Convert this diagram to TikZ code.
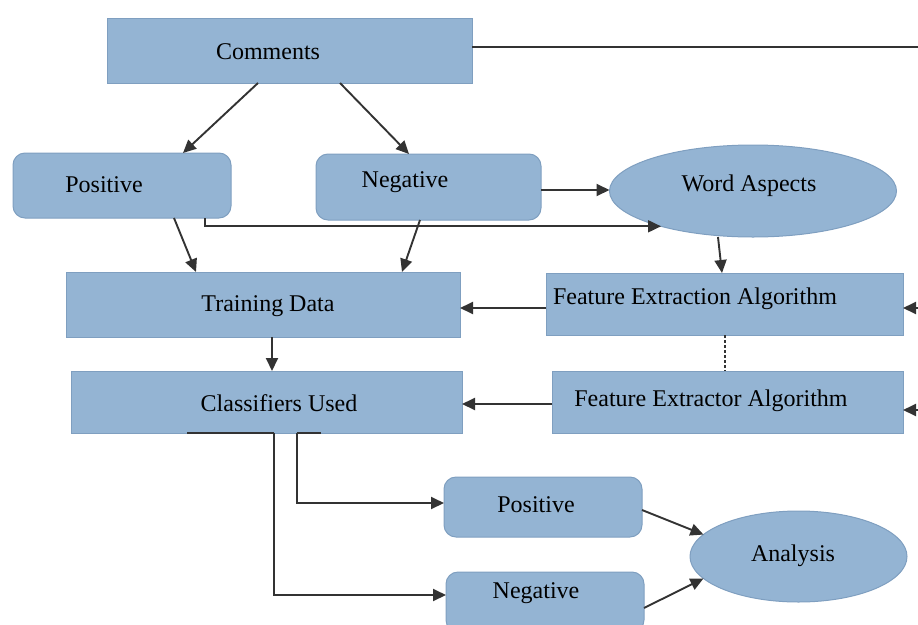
\documentclass[tikz,border=0pt]{standalone}
\usepackage{fontspec}
\setmainfont{Liberation Serif}
\usetikzlibrary{arrows.meta,shapes.geometric}
\definecolor{boxfill}{HTML}{94B4D3}
\definecolor{boxline}{HTML}{7F9FC0}
\definecolor{conn}{HTML}{333333}
\begin{document}
\begin{tikzpicture}[x=1pt,y=-1pt,
  sqbox/.style={draw=boxline,fill=boxfill,line width=1pt,rectangle,inner sep=0pt,outer sep=0pt},
  rdbox/.style={sqbox,rounded corners=12pt},
  ellbox/.style={draw=boxline,fill=boxfill,line width=1pt,ellipse,inner sep=0pt,outer sep=0pt},
  lbl/.style={font=\fontsize{24}{28}\selectfont,inner sep=0pt,anchor=center},
  conline/.style={draw=conn,line width=1.9pt},
  arr/.style={conline,-{Triangle[length=13pt,width=12pt]}}]
\useasboundingbox (0,0) rectangle (918,624);
% boxes
\node[sqbox,minimum width=365pt,minimum height=65pt] (comments) at (289.5,50.5) {};
\node[rdbox,minimum width=218pt,minimum height=65pt] (pos1) at (122,185.5) {};
\node[rdbox,minimum width=225pt,minimum height=66pt] (neg1) at (428.5,187) {};
\node[ellbox,minimum width=287pt,minimum height=92pt] (wa) at (753,191) {};
\node[sqbox,minimum width=394pt,minimum height=65pt] (train) at (263,304.5) {};
\node[sqbox,minimum width=357pt,minimum height=62pt] (fea) at (724.5,304) {};
\node[sqbox,minimum width=391pt,minimum height=62pt] (cls) at (266.5,402) {};
\node[sqbox,minimum width=351pt,minimum height=62pt] (fer) at (727.5,402) {};
\node[rdbox,minimum width=198pt,minimum height=60pt] (pos2) at (543,507) {};
\node[rdbox,minimum width=198pt,minimum height=60pt] (neg2) at (545,602) {};
\node[ellbox,minimum width=217pt,minimum height=91pt] (ana) at (798.5,556.5) {};
% labels
\node[lbl] (tcomments) at (268,52) {Comments};
\node[lbl] (tpos1) at (104,185) {Positive};
\node[lbl] (tneg1) at (405,182) {Negative};
\node[lbl] (twa) at (749,186) {Word Aspects};
\node[lbl] (ttrain) at (268,306) {Training Data};
\node[lbl] (tfea) at (695,299) {Feature Extraction Algorithm};
\node[lbl] (tcls) at (279,403) {Classifiers Used};
\node[lbl] (tfer) at (711,401) {Feature Extractor Algorithm};
\node[lbl] (tpos2) at (536,505) {Positive};
\node[lbl] (tneg2) at (536,593) {Negative};
\node[lbl] (tana) at (793,556) {Analysis};
% free ends at the right edge
\coordinate (rtop) at (918,47);
\coordinate (rin1) at (922,308);
\coordinate (rin2) at (922,410);
% connectors
\draw[conline] (comments.east |- rtop) -- (rtop);
\draw[arr] (258,0 |- comments.south) -- (183,0 |- pos1.north);
\draw[arr] (340,0 |- comments.south) -- (409,0 |- neg1.north);
\draw[arr] (neg1.east |- 0,190) -- (wa.west |- 0,190);
\draw[arr] (205,0 |- pos1.south) |- (wa.201);
\draw[arr] (174,0 |- pos1.south) -- (196,0 |- train.north);
\draw[arr] (420,0 |- neg1.south) -- (402,0 |- train.north);
\draw[arr] (718,0 |- wa.south) -- (722,0 |- fea.north);
\draw[arr] (fea.west |- 0,308) -- (train.east |- 0,308);
\draw[conline,dashed,dash pattern=on 3pt off 2pt] (725,0 |- fea.south) -- (725,0 |- fer.north);
\draw[arr] (fer.west |- 0,404) -- (cls.east |- 0,404);
\draw[arr] (rin1) -- (fea.east |- rin1);
\draw[arr] (rin2) -- (fer.east |- rin2);
\draw[arr] (272,0 |- train.south) -- (272,0 |- cls.north);
\draw[conline] (187,0 |- cls.south) -- (274,0 |- cls.south);
\draw[conline] (297,0 |- cls.south) -- (321,0 |- cls.south);
\draw[arr] (274,0 |- cls.south) |- (neg2.west |- 0,595);
\draw[arr] (297,0 |- cls.south) |- (pos2.west |- 0,503);
\draw[arr] (pos2.east |- 0,510) -- (ana.167);
\draw[arr] (neg2.east |- 0,608) -- (ana.193);
\end{tikzpicture}
\end{document}
